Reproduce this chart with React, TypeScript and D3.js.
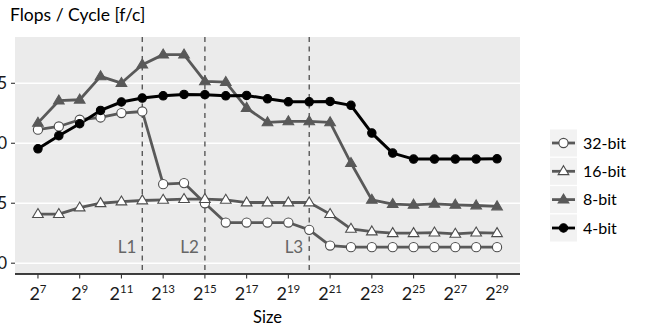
import React from "react";
import * as d3 from "d3";

const exponents = [7, 8, 9, 10, 11, 12, 13, 14, 15, 16, 17, 18, 19, 20, 21, 22, 23, 24, 25, 26, 27, 28, 29];
const bit32 = [11.13, 11.4, 11.96, 12.15, 12.52, 12.65, 6.59, 6.68, 5.0, 3.39, 3.39, 3.39, 3.39, 2.78, 1.47, 1.34, 1.34, 1.34, 1.34, 1.34, 1.34, 1.34, 1.34];
const bit16 = [4.09, 4.09, 4.64, 5.0, 5.14, 5.23, 5.28, 5.34, 5.34, 5.28, 5.06, 5.06, 5.06, 5.06, 4.09, 2.86, 2.64, 2.5, 2.5, 2.55, 2.45, 2.55, 2.5];
const bit8 = [11.7, 13.55, 13.63, 15.58, 15.02, 16.55, 17.39, 17.39, 15.16, 15.1, 12.94, 11.74, 11.82, 11.82, 11.74, 8.35, 5.28, 4.92, 4.87, 4.95, 4.87, 4.81, 4.73];
const bit4 = [9.54, 10.63, 11.63, 12.74, 13.44, 13.77, 13.96, 14.07, 14.05, 13.96, 13.99, 13.71, 13.46, 13.46, 13.49, 13.16, 10.85, 9.18, 8.68, 8.68, 8.68, 8.68, 8.7];
const seriesNames = ["32-bit", "16-bit", "8-bit", "4-bit"];
const xTickExps = [7, 9, 11, 13, 15, 17, 19, 21, 23, 25, 27, 29];
const yTicks = [0, 5, 10, 15];
const cacheExps = [12, 15, 20];
const cacheLabels = ["L1", "L2", "L3"];

const FONT = "Lato, 'Open Sans', sans-serif";
const GREY = "#595959";

type Style = { line: string; shape: "circle" | "triangle"; fill: string; stroke: string; r: number };
const styles: Style[] = [
  { line: GREY, shape: "circle", fill: "#ffffff", stroke: "#4d4d4d", r: 4.6 },
  { line: GREY, shape: "triangle", fill: "#ffffff", stroke: "#4d4d4d", r: 5.6 },
  { line: GREY, shape: "triangle", fill: GREY, stroke: GREY, r: 5.6 },
  { line: "#000000", shape: "circle", fill: "#000000", stroke: "#000000", r: 4.2 },
];

function triPath(cx: number, cy: number, r: number) {
  const h = r * 1.0;
  const w = r * 0.95;
  return `M${cx},${cy - h}L${cx + w},${cy + h * 0.6}L${cx - w},${cy + h * 0.6}Z`;
}

function Marker({ s, x, y }: { s: Style; x: number; y: number }) {
  if (s.shape === "circle")
    return <circle cx={x} cy={y} r={s.r} fill={s.fill} stroke={s.stroke} strokeWidth={1.1} />;
  return <path d={triPath(x, y, s.r)} fill={s.fill} stroke={s.stroke} strokeWidth={1.1} strokeLinejoin="miter" />;
}

export default function App() {
  const W = 651, H = 331;
  const px0 = 15, px1 = 520, py0 = 37, py1 = 274;
  const x = d3.scaleLinear().domain([5.9, 30.1]).range([px0, px1]);
  const y = d3.scaleLinear().domain([-0.9, 18.86]).range([py1, py0]);
  const all = [bit32, bit16, bit8, bit4];
  const line = d3.line<number>().x((_, i) => x(exponents[i])).y((d) => y(d));

  const legendY = [143, 171.3, 199.6, 228];

  return (
    <div style={{ position: "absolute", left: 0, top: 0 }}>
      <svg width={W} height={H} style={{ display: "block", fontFamily: FONT }}>
        <rect x={0} y={0} width={W} height={H} fill="#ffffff" />
        <rect x={px0} y={py0} width={px1 - px0} height={py1 - py0} fill="#EBEBEB" />
        {yTicks.map((t) => (
          <g key={t}>
            <line x1={px0} x2={px1} y1={y(t)} y2={y(t)} stroke="#ffffff" strokeWidth={1.4} />
            <line x1={px0 - 4} x2={px0} y1={y(t)} y2={y(t)} stroke="#333333" strokeWidth={1.1} />
            <text x={7} y={y(t)} dy="0.36em" textAnchor="end" fontSize={17} fill="#1a1a1a">{t}</text>
          </g>
        ))}
        {cacheExps.map((e, i) => (
          <g key={e}>
            <line x1={x(e)} x2={x(e)} y1={py0} y2={py1} stroke={GREY} strokeWidth={1.4} strokeDasharray="5,4.5" />
            <text x={x(e) - 6} y={252.5} textAnchor="end" fontSize={17} fill="#666666">{cacheLabels[i]}</text>
          </g>
        ))}
        {all.map((vals, si) => (
          <path key={si} d={line(vals) || ""} fill="none" stroke={styles[si].line} strokeWidth={si === 3 ? 3 : 2.8} strokeLinejoin="round" />
        ))}
        {all.map((vals, si) => (
          <g key={si}>
            {vals.map((v, i) => (
              <Marker key={i} s={styles[si]} x={x(exponents[i])} y={y(v)} />
            ))}
          </g>
        ))}
        <line x1={px0} x2={px1} y1={py1} y2={py1} stroke="#000000" strokeWidth={1.4} />
        {xTickExps.map((e) => (
          <g key={e}>
            <line x1={x(e)} x2={x(e)} y1={py1} y2={py1 + 4.5} stroke="#333333" strokeWidth={1.1} />
            <text x={x(e)} y={300} textAnchor="middle" fontSize={18} fill="#1a1a1a">
              2<tspan fontSize={11.5} dy={-7}>{e}</tspan>
            </text>
          </g>
        ))}
        <text x={(px0 + px1) / 2} y={322.5} textAnchor="middle" fontSize={16.5} fill="#000000">Size</text>
        <text x={10} y={21} fontSize={17.5} fill="#000000">Flops / Cycle [f/c]</text>
        {seriesNames.map((n, i) => (
          <g key={n}>
            <rect x={550} y={legendY[i] - 13.5} width={27} height={27} fill="#F2F2F2" />
            <line x1={552} x2={575} y1={legendY[i]} y2={legendY[i]} stroke={styles[i].line} strokeWidth={2.8} />
            <Marker s={styles[i]} x={563.5} y={legendY[i]} />
            <text x={583} y={legendY[i]} dy="0.36em" fontSize={16} fill="#000000">{n}</text>
          </g>
        ))}
      </svg>
    </div>
  );
}
